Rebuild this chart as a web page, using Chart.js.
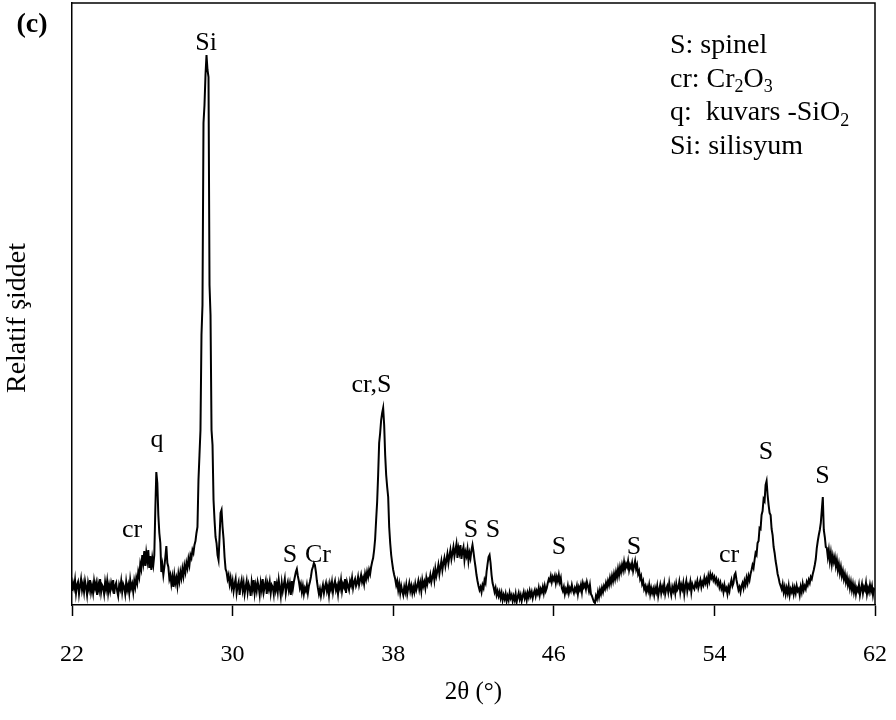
<!DOCTYPE html>
<html>
<head>
<meta charset="utf-8">
<script src="https://cdn.jsdelivr.net/npm/chart.js@4/dist/chart.umd.min.js"></script>
<style>html,body{margin:0;padding:0;background:#fff;}canvas{display:block;}</style>
</head>
<body>
<canvas id="c" width="896" height="720"></canvas>
<script>
// ---- data ----
const angleStart = 22.0;   // first 2θ value of the scan
const angleStep = 0.05;    // 2θ step of the scan
const intensity = [
  14,22,17,25,12,20,23,11,19,26,15,21,13,24,18,10,22,16,25,13,      // 22
  19,12,24,17,22,10,21,15,26,13,20,18,11,23,16,24,12,20,14,22,      // 23
  17,25,11,19,22,14,9,20,16,24,13,21,18,11,23,15,20,12,25,17,       // 24
  21,13,24,18,27,22,33,28,41,36,50,42,54,39,52,44,55,37,49,35,      // 25
  47,40,50,95,133,122,90,72,62,33,40,30,38,48,59,42,38,26,30,21,    // 26
  28,18,30,22,27,19,31,24,33,27,36,29,39,33,42,37,46,40,50,47,      // 27
  55,52,60,64,72,78,125,150,175,270,300,482,500,530,550,535,528,320,290,175, // 28
  160,105,85,68,62,50,45,68,92,95,78,66,48,36,33,26,30,21,27,18,    // 29
  24,14,21,26,12,19,23,10,20,25,15,22,11,18,24,13,21,17,9,23,       // 30
  16,25,12,20,14,23,18,10,22,15,26,13,19,24,11,21,16,23,12,20,      // 31
  18,11,24,15,21,13,25,17,9,22,14,20,26,12,19,23,15,21,10,24,       // 32
  16,23,28,33,36,29,24,17,21,13,19,11,17,14,20,12,19,23,28,35,      // 33
  38,42,40,33,24,17,11,16,9,15,20,12,18,22,14,19,10,21,16,23,       // 34
  13,20,24,15,19,11,22,17,25,14,21,18,26,12,23,19,15,24,20,27,      // 35
  17,23,26,19,22,28,20,25,30,23,27,21,31,26,33,28,35,31,38,43,      // 36
  47,55,66,85,103,130,162,172,185,192,197,180,150,130,118,108,78,62,50,42, // 37
  35,30,26,20,24,15,21,12,19,14,10,18,13,20,11,17,22,14,19,12,      // 38
  18,13,21,15,19,24,16,22,14,25,19,23,17,27,21,26,24,30,23,28,      // 39
  33,25,36,29,34,40,31,38,44,35,42,47,39,45,51,42,49,55,46,52,      // 40
  58,49,55,61,47,57,52,60,46,54,58,45,53,49,56,44,52,47,55,60,      // 41
  53,45,38,30,24,19,15,18,13,20,17,25,22,33,41,48,50,42,30,22,      // 42
  18,13,17,10,14,9,13,7,12,5,10,6,11,4,9,5,12,7,10,4,               // 43
  9,5,11,3,8,12,6,10,4,9,13,7,11,5,12,8,14,9,13,7,                  // 44
  12,15,9,14,11,17,10,16,13,18,12,19,14,17,22,26,24,29,23,28,       // 45
  25,29,22,28,24,30,23,27,17,14,18,11,16,13,19,12,17,14,20,15,      // 46
  12,17,14,19,11,18,15,20,13,22,18,21,16,23,19,14,20,11,9,6,        // 47
  3,2,9,6,13,8,15,11,17,13,19,16,22,18,24,20,27,22,29,24,           // 48
  31,26,33,28,36,30,38,33,40,35,43,36,41,38,44,35,40,37,42,34,      // 49
  39,44,36,40,31,34,26,29,21,24,16,19,13,18,14,20,11,17,12,16,      // 50
  10,17,13,19,9,15,20,12,18,14,21,11,16,19,13,22,15,10,18,14,       // 51
  19,12,21,15,17,23,13,20,16,22,11,19,24,14,20,17,23,13,21,18,      // 52
  16,22,19,24,17,21,25,18,23,20,27,22,26,21,29,24,31,27,30,25,      // 53
  28,23,26,21,24,18,22,16,19,13,20,15,17,11,18,14,21,25,19,22,      // 54
  30,32,25,20,15,18,13,19,22,17,24,20,27,22,29,25,31,35,40,37,      // 55
  45,52,50,62,64,77,76,90,94,106,104,120,124,110,100,92,90,76,70,58, // 56
  52,44,38,31,27,22,19,16,21,13,18,11,17,12,19,10,16,13,18,11,      // 57
  17,12,19,14,16,10,18,13,21,15,19,16,23,20,25,22,28,26,31,35,      // 58
  40,46,57,64,70,75,82,95,108,75,68,58,57,48,55,44,52,41,49,43,     // 59
  48,39,45,35,41,32,38,29,34,26,31,23,28,20,25,17,23,15,21,13,      // 60
  19,11,17,14,20,10,16,21,12,18,15,22,11,17,13,20,14,19,10,16,      // 61
  15                                                                // 62
];
const xTicks = [22, 30, 38, 46, 54, 62];
const xTitle = '2θ (°)';
const yTitle = 'Relatif şiddet';
const panelTag = '(c)';
const peakTexts   = ['cr',  'q',   'Si',  'S',   'Cr',  'cr,S', 'S',   'S',   'S',   'S',   'cr',  'S',   'S'];
const peakAngles  = [24.99, 26.23, 28.68, 32.86, 34.25, 36.92, 41.88, 42.97, 46.26, 49.99, 54.73, 56.57, 59.39];
const peakHeights = [75,    165,   562,   50,    50,    220,   75,    75,    58,    58,    50,    153,   129];
// legend rows: [text, isSubscript]
const legendRows = [
  [['S: spinel', 0]],
  [['cr: Cr', 0], ['2', 1], ['O', 0], ['3', 1]],
  [['q:  kuvars -SiO', 0], ['2', 1]],
  [['Si: silisyum', 0]]
];

// ---- chart ----
const FONT = "'Liberation Serif', 'Times New Roman', serif";
Chart.defaults.font.family = FONT;
Chart.defaults.color = '#000';

const points = intensity.map((v, i) => ({ x: +(angleStart + i * angleStep).toFixed(2), y: v }));

const overlay = {
  id: 'overlay',
  afterDraw(chart) {
    const { ctx, chartArea: a, scales } = chart;
    const xs = scales.x, ys = scales.y;
    ctx.save();
    // frame top & right
    ctx.strokeStyle = '#000';
    ctx.lineWidth = 1.5;
    ctx.beginPath();
    ctx.moveTo(a.left, a.top);
    ctx.lineTo(a.right, a.top);
    ctx.lineTo(a.right, a.bottom);
    ctx.stroke();

    ctx.fillStyle = '#000';
    // peak labels
    ctx.font = '26px ' + FONT;
    ctx.textAlign = 'center';
    ctx.textBaseline = 'middle';
    peakTexts.forEach((t, i) => {
      ctx.fillText(t, xs.getPixelForValue(peakAngles[i]), ys.getPixelForValue(peakHeights[i]));
    });

    // panel tag
    ctx.font = 'bold 28px ' + FONT;
    ctx.fillText(panelTag, 32, 25);

    // y title
    ctx.save();
    ctx.translate(18, 318);
    ctx.rotate(-Math.PI / 2);
    ctx.font = '28px ' + FONT;
    ctx.fillText(yTitle, 0, 0);
    ctx.restore();

    // legend
    ctx.textAlign = 'left';
    const lx = 670, ly0 = 46, dy = 33.5;
    legendRows.forEach((row, r) => {
      let x = lx;
      const y = ly0 + r * dy;
      row.forEach(([t, sub]) => {
        ctx.font = (sub ? '18px ' : '28px ') + FONT;
        ctx.fillText(t, x, sub ? y + 8 : y);
        x += ctx.measureText(t).width;
      });
    });
    ctx.restore();
  }
};

new Chart(document.getElementById('c'), {
  type: 'line',
  data: {
    datasets: [{
      data: points,
      borderColor: '#000',
      borderWidth: 2,
      pointRadius: 0,
      tension: 0,
      fill: false
    }]
  },
  options: {
    responsive: false,
    animation: false,
    devicePixelRatio: 1,
    layout: { padding: { top: 3, right: 21, left: 0, bottom: 0 } },
    plugins: { legend: { display: false }, tooltip: { enabled: false } },
    scales: {
      x: {
        type: 'linear',
        min: 22, max: 62,
        afterBuildTicks: s => { s.ticks = xTicks.map(v => ({ value: v })); },
        afterFit: s => { s.height = 115; s.paddingLeft = 0; s.paddingRight = 0; },
        ticks: { color: '#000', font: { size: 24 }, padding: 24, maxRotation: 0, autoSkip: false },
        grid: { display: true, drawOnChartArea: false, drawTicks: true, tickLength: 11, tickColor: '#000', tickWidth: 1.5, color: '#000' },
        border: { display: true, color: '#000', width: 1.5 },
        title: { display: true, text: xTitle, color: '#000', font: { size: 25 }, padding: { top: 0, bottom: 13 } }
      },
      y: {
        min: 0, max: 602,
        afterFit: s => { s.width = 72; },
        ticks: { display: false },
        grid: { display: false },
        border: { display: true, color: '#000', width: 1.5 }
      }
    }
  },
  plugins: [overlay]
});
</script>
</body>
</html>
